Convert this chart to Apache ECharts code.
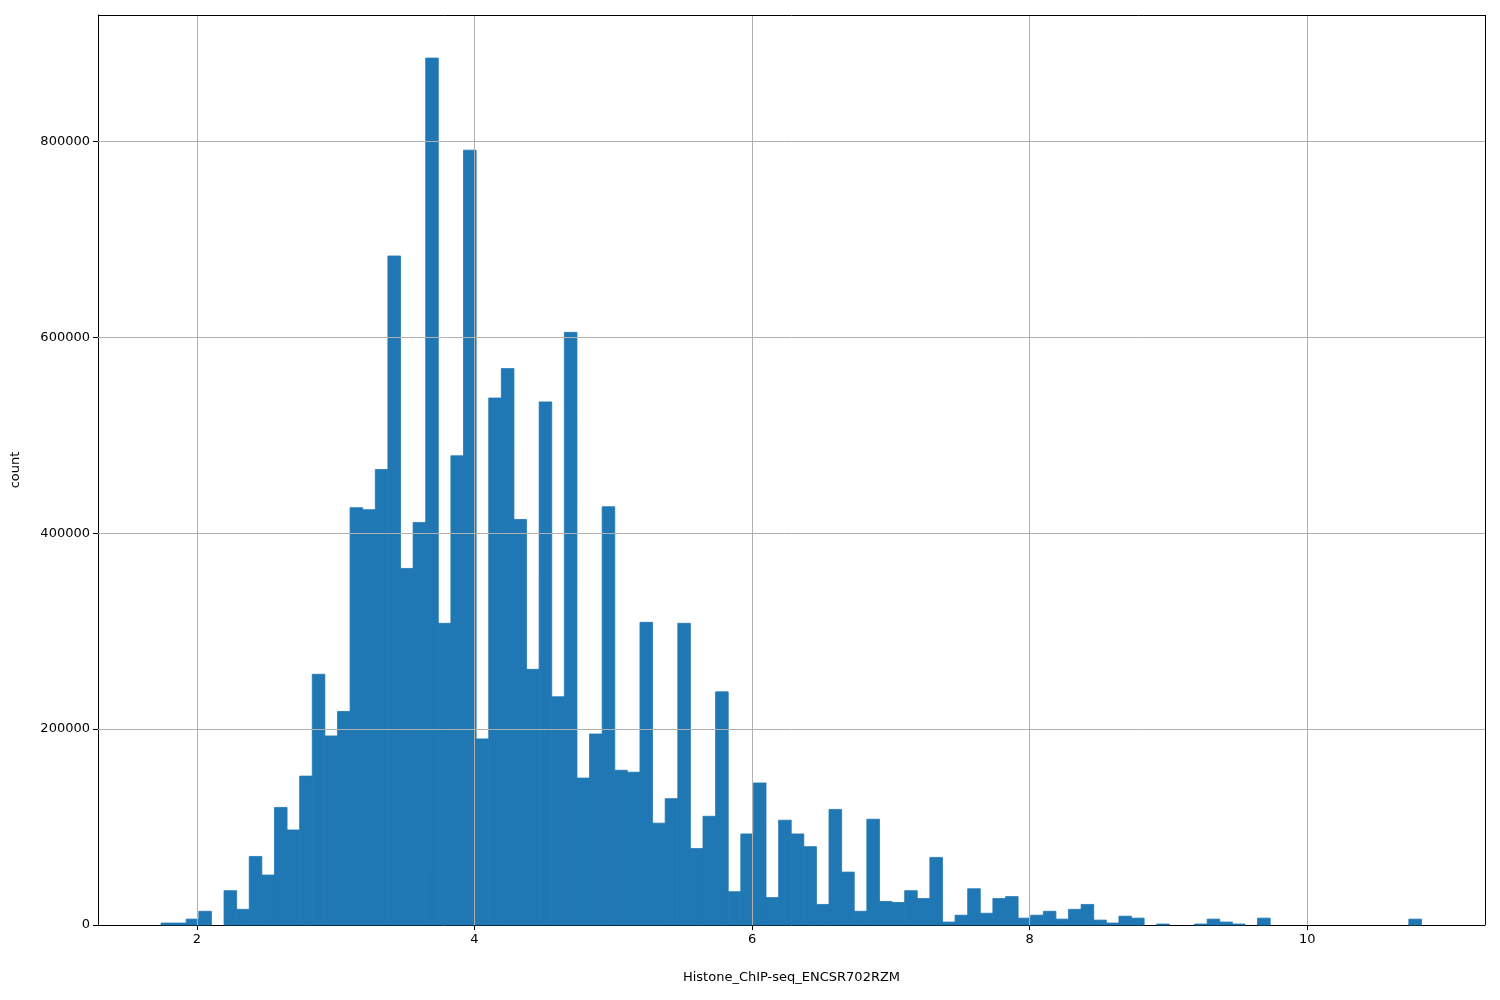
<!DOCTYPE html>
<html>
<head>
<meta charset="utf-8">
<script src="https://cdn.jsdelivr.net/npm/echarts@6/dist/echarts.min.js"></script>
<style>html,body{margin:0;padding:0;background:#fff}#main{width:1500px;height:1000px}</style>
</head>
<body>
<div id="main"></div>
<script>
// histogram: 100 bins starting at binStart
var binStart = 1.742;
var binWidth = 0.0908;
var counts = [2000, 2000, 6000, 14000, 0, 35000, 16000, 70000, 51000, 120000,
    97000, 152000, 256000, 193000, 218000, 426000, 424000, 465000, 683000, 364000,
    411000, 885000, 308000, 479000, 791000, 190000, 538000, 568000, 414000, 261000,
    534000, 233000, 605000, 150000, 195000, 427000, 158000, 156000, 309000, 104000,
    129000, 308000, 78000, 111000, 238000, 34000, 93000, 145000, 28000, 107000,
    93000, 80000, 21000, 118000, 54000, 14000, 108000, 24000, 23000, 35000,
    27000, 69000, 3000, 10000, 37000, 12000, 27000, 29000, 7000, 10000,
    14000, 6000, 16000, 21000, 5000, 2000, 9000, 7000, 0, 1000,
    0, 0, 1000, 6000, 3000, 1000, 0, 7000, 0, 0,
    0, 0, 0, 0, 0, 0, 0, 0, 0, 6000];
var xTicks = [2, 4, 6, 8, 10];
var yTicks = [0, 200000, 400000, 600000, 800000];

var data = counts.map(function (c, i) {
    return [binStart + i * binWidth, binStart + (i + 1) * binWidth, c];
});

var gridLines = [];
xTicks.forEach(function (v) { gridLines.push({xAxis: v}); });
yTicks.forEach(function (v) { if (v > 0) gridLines.push({yAxis: v}); });

var myChart = echarts.init(document.getElementById('main'));
var option = {
    animation: false,
    textStyle: {fontFamily: 'DejaVu Sans'},
    grid: {left: 98, right: 15, top: 15, bottom: 75},
    xAxis: {
        type: 'value', min: 1.288, max: 11.28,
        name: 'Histone_ChIP-seq_ENCSR702RZM', nameLocation: 'middle', nameGap: 46,
        nameTextStyle: {fontSize: 13, color: '#000'},
        axisLine: {lineStyle: {color: '#000'}},
        axisTick: {customValues: xTicks, length: 5, lineStyle: {color: '#000'}},
        axisLabel: {customValues: xTicks, fontSize: 13, color: '#000', margin: 8},
        splitLine: {show: false}
    },
    yAxis: {
        type: 'value', min: 0, max: 929000,
        name: 'count', nameLocation: 'middle', nameGap: 76, nameRotate: 90,
        nameTextStyle: {fontSize: 13, color: '#000'},
        axisLine: {show: true, lineStyle: {color: '#000'}},
        axisTick: {show: true, customValues: yTicks, length: 5, lineStyle: {color: '#000'}},
        axisLabel: {customValues: yTicks, fontSize: 13, color: '#000', margin: 8,
            formatter: function (v) { return String(v); }},
        splitLine: {show: false}
    },
    series: [{
        type: 'custom',
        data: data,
        encode: {x: [0, 1], y: 2},
        renderItem: function (params, api) {
            if (!api.value(2)) return null;
            var p0 = api.coord([api.value(0), api.value(2)]);
            var p1 = api.coord([api.value(1), 0]);
            return {
                type: 'rect',
                shape: {x: p0[0], y: p0[1], width: p1[0] - p0[0], height: p1[1] - p0[1]},
                style: {fill: '#1f77b4', stroke: '#1f77b4', lineWidth: 0.8}
            };
        },
        markLine: {
            silent: true, symbol: 'none', label: {show: false},
            lineStyle: {color: '#b0b0b0', type: 'solid', width: 1},
            data: gridLines
        }
    }, {
        // top/right frame
        type: 'line', data: [], markLine: {
            silent: true, symbol: 'none', label: {show: false},
            lineStyle: {color: '#000', type: 'solid', width: 1},
            data: [{xAxis: 11.28}, {yAxis: 929000}]
        }
    }]
};
myChart.setOption(option);
</script>
</body>
</html>
